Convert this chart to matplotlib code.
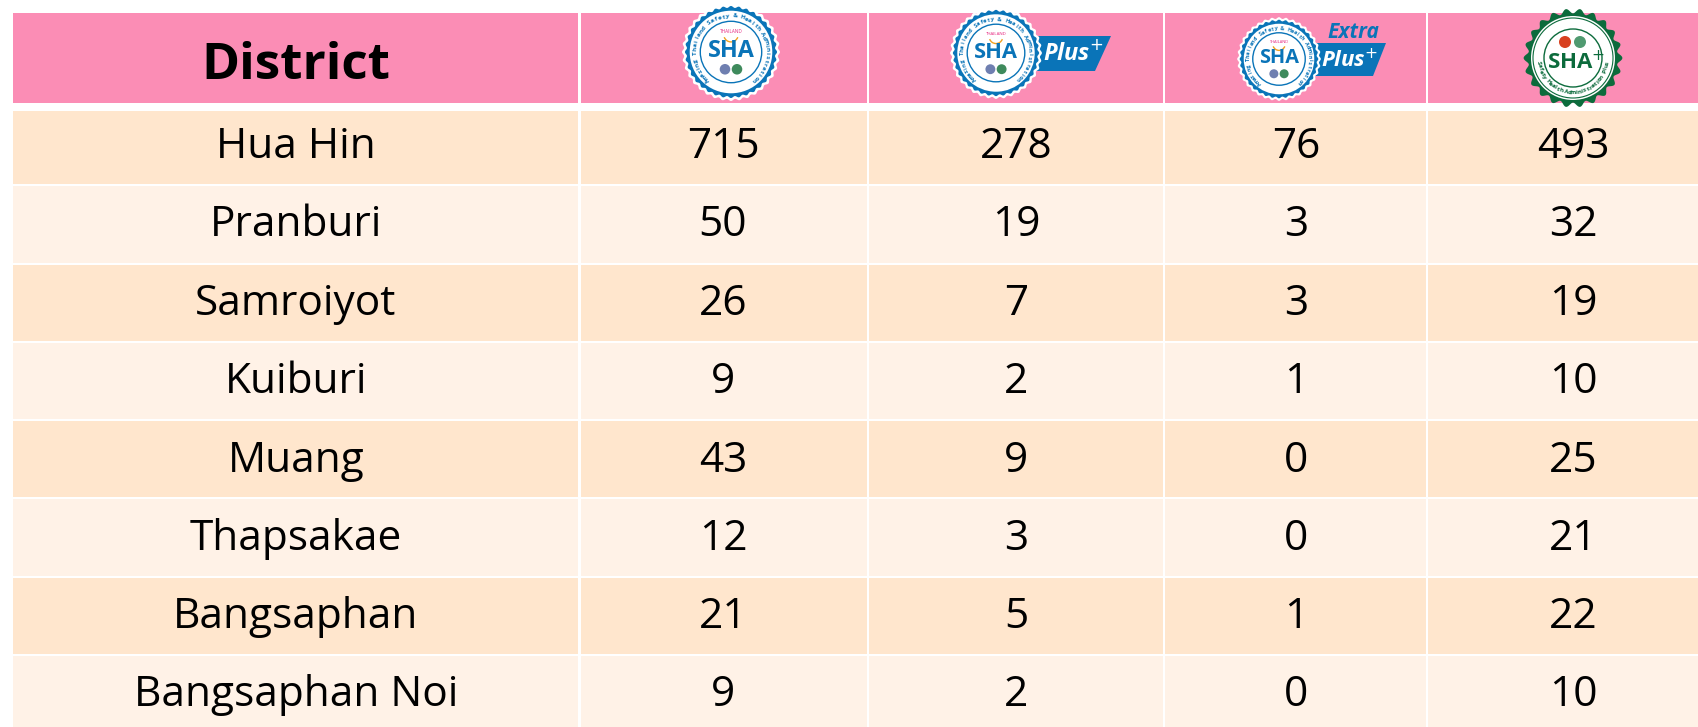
import numpy as np
import matplotlib
matplotlib.use('Agg')
import matplotlib.pyplot as plt
from matplotlib.patches import Rectangle, Circle, Polygon, Arc

districts = ['Hua Hin', 'Pranburi', 'Samroiyot', 'Kuiburi', 'Muang', 'Thapsakae', 'Bangsaphan', 'Bangsaphan Noi']
sha = [715, 50, 26, 9, 43, 12, 21, 9]
sha_plus = [278, 19, 7, 2, 9, 3, 5, 2]
sha_extra = [76, 3, 3, 1, 0, 0, 1, 0]
sha_local = [493, 32, 19, 10, 25, 21, 22, 10]
header = 'District'

col_edges = [(13, 578), (581, 867), (869, 1163), (1165, 1426), (1428, 1698)]
row_edges = [(111, 184), (186, 263), (265, 341), (343, 419), (421, 497), (499, 576), (578, 654), (656, 727)]
text_x = [296, 723, 1016, 1296, 1573]
text_y = [147, 225, 304, 382, 461, 539, 617, 695]

PINK = '#fb8db5'
ROW1 = '#ffe6cd'
ROW2 = '#fff2e7'
BLUE = '#0a74b8'
GREEN = '#0c6b3c'

plt.rcParams['font.family'] = ['Open Sans', 'DejaVu Sans']

fig = plt.figure(figsize=(16.98, 7.27), dpi=100)
ax = fig.add_axes([0, 0, 1, 1])
ax.set_xlim(0, 1698)
ax.set_ylim(727, 0)
ax.axis('off')


def ring_text(cx, cy, r, s, start, end, color, size, flip=False):
    # letters one by one round the seal, angles in degrees, clockwise on screen from the top
    angles = np.linspace(start, end, len(s))
    for ch, a in zip(s, angles):
        t = np.radians(a)
        rot = 180 - a if flip else -a
        ax.text(cx + r*np.sin(t), cy - r*np.cos(t), ch, color=color, fontsize=size,
                fontweight='bold', ha='center', va='center', rotation=rot,
                rotation_mode='anchor', zorder=6)


def scallop(cx, cy, r, amp, teeth, color, z):
    t = np.linspace(0, 2*np.pi, 1440)
    rad = r*(1 + amp*np.cos(teeth*t))
    ax.add_patch(Polygon(np.c_[cx + rad*np.cos(t), cy + rad*np.sin(t)], fc=color, ec='none', zorder=z))


def blue_seal(cx, cy, r):
    scallop(cx, cy, 1.0*r, 0.02, 36, 'white', 3)
    scallop(cx, cy, 0.94*r, 0.02, 36, BLUE, 4)
    ax.add_patch(Circle((cx, cy), 0.86*r, fc='white', ec='none', zorder=4))
    ax.add_patch(Circle((cx, cy), 0.64*r, fc='white', ec=BLUE, lw=1, zorder=5))
    ring_text(cx, cy, 0.75*r, 'Amazing Thailand Safety & Health Administration', -140, 140, BLUE, 0.095*r)
    ax.text(cx, cy - 0.42*r, 'THAILAND', color='#e6247f', fontsize=0.07*r, ha='center', va='center', zorder=6)
    ax.add_patch(Arc((cx, cy - 0.36*r), 0.3*r, 0.3*r, theta1=20, theta2=160, color='#f0a020', lw=1, zorder=6))
    ax.text(cx, cy - 0.02*r, 'SHA', color=BLUE, fontsize=0.35*r, fontweight='bold', ha='center', va='center', zorder=6)
    ax.add_patch(Circle((cx - 0.125*r, cy + 0.36*r), 0.11*r, fc='#6f7fb0', ec='none', zorder=6))
    ax.add_patch(Circle((cx + 0.125*r, cy + 0.36*r), 0.11*r, fc='#3e8a5c', ec='none', zorder=6))


def banner(x0, x1, y0, y1, slant, txt_x, txt_y, size):
    ax.add_patch(Polygon([(x0, y0), (x1, y0), (x1 - slant, y1), (x0, y1)], fc=BLUE, ec='none', zorder=2))
    ax.text(txt_x, txt_y, 'Plus$^{+}$', color='white', fontsize=size, fontweight='bold', fontstyle='italic',
            ha='center', va='center', zorder=6)


# header band
for x0, x1 in col_edges:
    ax.add_patch(Rectangle((x0, 13), x1 - x0, 90, fc=PINK, ec='none', zorder=1))
ax.text(text_x[0], 66, header, fontsize=37, fontweight='bold', color='black', ha='center', va='center', zorder=6)

# body rows
columns = [districts, sha, sha_plus, sha_extra, sha_local]
for i, (y0, y1) in enumerate(row_edges):
    for x0, x1 in col_edges:
        ax.add_patch(Rectangle((x0, y0), x1 - x0, y1 - y0, fc=ROW1 if i % 2 == 0 else ROW2, ec='none', zorder=1))
    for j, col in enumerate(columns):
        ax.text(text_x[j], text_y[i], str(col[i]), fontsize=30.5, color='black', ha='center', va='center', zorder=6)

# logos
blue_seal(731, 52, 48)

banner(1000, 1111, 36, 71, 16, 1073, 53, 17)
blue_seal(996, 53, 45)

banner(1260, 1386, 43, 76, 13, 1350, 60, 16)
ax.text(1353, 33, 'Extra', color=BLUE, fontsize=15, fontweight='bold', fontstyle='italic', ha='center', va='center', zorder=6)
blue_seal(1279, 59, 41)

# provincial seal
cx, cy = 1573, 58
scallop(cx, cy, 47, 0.05, 22, GREEN, 3)
ax.add_patch(Circle((cx, cy), 42, fc='white', ec='none', zorder=4))
ax.add_patch(Circle((cx, cy), 40, fc='white', ec=GREEN, lw=0.8, zorder=4))
ax.add_patch(Circle((cx, cy), 29, fc='white', ec=GREEN, lw=1, zorder=5))
ring_text(cx, cy, 34.5, 'Safety Health Administration Plus', 262, 98, GREEN, 4.6, flip=True)
ax.text(cx + 3, cy + 4, 'SHA$^{+}$', color=GREEN, fontsize=16, fontweight='bold', ha='center', va='center', zorder=6)
ax.add_patch(Circle((cx - 8, cy - 16), 6, fc='#d8401f', ec='none', zorder=6))
ax.add_patch(Circle((cx + 7, cy - 16), 6, fc='#4f9a70', ec='none', zorder=6))

fig.savefig('out.png', dpi=100)
